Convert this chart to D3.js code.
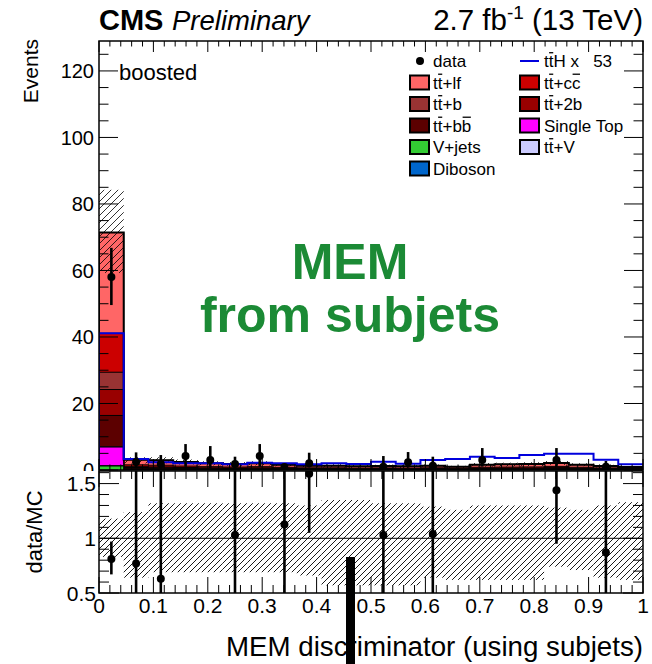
<!DOCTYPE html>
<html>
<head>
<meta charset="utf-8">
<script src="https://cdn.jsdelivr.net/npm/d3@7"></script>
<style>
  body { margin: 0; background: #fff; }
  svg { display: block; font-family: "Liberation Sans", Arial, Helvetica, sans-serif; }
</style>
</head>
<body>
<svg id="chart" width="652" height="664"></svg>
<script>
// ---- binning of the MEM discriminator ----
const nBins = 22;
const xDomain = [0, 1];

// ---- background processes, events per bin ----
const vjets     = [1.2, 0.02, 0.02, 0.01, 0.01, 0.01, 0.01, 0.01, 0.01, 0.01, 0.01, 0.01, 0.01, 0.01, 0.01, 0.01, 0.01, 0.01, 0.01, 0.01, 0.01, 0.01];
const diboson   = [0.1, 0, 0, 0, 0, 0, 0, 0, 0, 0, 0, 0, 0, 0, 0, 0, 0, 0, 0, 0, 0, 0];
const singleTop = [5.6, 0.20, 0.18, 0.15, 0.12, 0.11, 0.12, 0.10, 0.08, 0.08, 0.07, 0.08, 0.07, 0.08, 0.06, 0.10, 0.10, 0.11, 0.13, 0.10, 0.08, 0.06];
const ttV       = [0.1, 0.03, 0.03, 0.02, 0.02, 0.02, 0.02, 0.02, 0.02, 0.02, 0.02, 0.02, 0.02, 0.02, 0.02, 0.03, 0.03, 0.03, 0.04, 0.03, 0.02, 0.02];
const ttbb      = [9.4, 0.30, 0.28, 0.24, 0.20, 0.18, 0.20, 0.16, 0.13, 0.13, 0.11, 0.12, 0.11, 0.13, 0.10, 0.17, 0.18, 0.19, 0.23, 0.17, 0.12, 0.09];
const tt2b      = [7.8, 0.20, 0.18, 0.15, 0.13, 0.12, 0.13, 0.10, 0.08, 0.08, 0.07, 0.08, 0.07, 0.08, 0.07, 0.10, 0.11, 0.12, 0.13, 0.10, 0.08, 0.06];
const ttb       = [5.2, 0.25, 0.23, 0.19, 0.16, 0.14, 0.16, 0.13, 0.10, 0.10, 0.09, 0.10, 0.09, 0.10, 0.08, 0.13, 0.14, 0.14, 0.17, 0.13, 0.10, 0.07];
const ttcc      = [11.7, 0.55, 0.52, 0.43, 0.36, 0.32, 0.36, 0.29, 0.24, 0.24, 0.20, 0.22, 0.20, 0.24, 0.18, 0.29, 0.31, 0.33, 0.38, 0.29, 0.22, 0.16];
const ttlf      = [30.3, 1.55, 1.48, 1.21, 1.00, 0.90, 1.00, 0.79, 0.64, 0.64, 0.53, 0.57, 0.53, 0.64, 0.48, 0.78, 0.82, 0.87, 1.01, 0.78, 0.57, 0.43];

// ---- signal, ttH scaled by 53 ----
const ttHx53 = [41.1, 3.3, 2.3, 2.0, 2.0, 1.7, 2.2, 2.0, 1.7, 2.0, 1.8, 2.5, 1.9, 3.0, 3.3, 4.0, 3.6, 4.5, 4.9, 4.9, 3.1, 1.7];

// ---- observed data (null = no entry drawn) ----
const dataVal  = [58, 2.4, 1.8, 4.2, 3.0, 1.8, 4.2, 0.9, 2.0, null, null, 1.0, 2.3, 1.3, null, 3.0, null, null, 3.0, null, 1.0, null];
const dataLow  = [49.6, 0.5, 0.4, 1.0, 0.5, 0.3, 1.0, 0.2, 0.8, null, null, 0.2, 0.7, 0.2, null, 1.0, null, null, 1.0, null, 0.2, null];
const dataHigh = [66.8, 5.3, 4.5, 7.8, 7.2, 4.0, 7.8, 1.6, 5.2, null, null, 4.2, 5.4, 4.0, null, 6.6, null, null, 6.6, null, 2.7, null];

// ---- relative background uncertainty band (lower / upper edge) ----
const bandLow  = [0.83, 0.64, 0.69, 0.69, 0.69, 0.69, 0.69, 0.69, 0.66, 0.57, 0.57, 0.57, 0.57, 0.64, 0.62, 0.62, 0.62, 0.62, 0.74, 0.71, 0.64, 0.62];
const bandHigh = [1.18, 1.24, 1.32, 1.32, 1.32, 1.32, 1.32, 1.32, 1.30, 1.35, 1.35, 1.32, 1.32, 1.29, 1.26, 1.30, 1.30, 1.30, 1.28, 1.26, 1.30, 1.33];

// ---- data / MC ratio ----
const ratioVal  = [0.81, 0.77, 0.63, null, null, 1.03, null, 1.125, 1.59, null, null, 1.03, null, 1.04, null, null, null, null, 1.44, null, 0.87, null];
const ratioLow  = [0.67, 0.2, 0.1, null, null, 0.2, null, 0.2, 1.05, null, null, 0.2, null, 0.2, null, null, null, null, 0.95, null, 0.2, null];
const ratioHigh = [0.97, 2.0, 1.9, null, null, 2.5, null, 2.8, 3.0, null, null, 3.0, null, 3.0, null, null, null, null, 2.5, null, 2.5, null];

// ---- axis ticks ----
const xTickLabels = ["0", "0.1", "0.2", "0.3", "0.4", "0.5", "0.6", "0.7", "0.8", "0.9", "1"];
const yMainLabels = ["0", "20", "40", "60", "80", "100", "120"];
const yRatioLabels = ["0.5", "1", "1.5"];

// ---- process table: stacking order bottom -> top ----
const processes = [
  { key: "vjets",     name: "V+jets",       color: "#33cc33", values: vjets },
  { key: "diboson",   name: "Diboson",      color: "#0066cc", values: diboson },
  { key: "singleTop", name: "Single Top",   color: "#ff00ff", values: singleTop },
  { key: "ttV",       name: "t{t}+V",       color: "#ccccff", values: ttV },
  { key: "ttbb",      name: "t{t}+b{b}",    color: "#5c0000", values: ttbb },
  { key: "tt2b",      name: "t{t}+2b",      color: "#990000", values: tt2b },
  { key: "ttb",       name: "t{t}+b",       color: "#993333", values: ttb },
  { key: "ttcc",      name: "t{t}+c{c}",    color: "#cc0000", values: ttcc },
  { key: "ttlf",      name: "t{t}+lf",      color: "#ff6666", values: ttlf }
];

// ---- geometry ----
const X0 = 99, X1 = 643;
const mainTop = 41, mainBot = 470;
const ratTop = 471, ratBot = 593;

const x  = d3.scaleLinear().domain(xDomain).range([X0, X1]);
const y  = d3.scaleLinear().domain([0, 129]).range([mainBot, mainTop]);
const yr = d3.scaleLinear().domain([0.5, 1.615]).range([ratBot, ratTop]);

const binW = (xDomain[1] - xDomain[0]) / nBins;
const lo = i => xDomain[0] + i * binW;
const hi = i => xDomain[0] + (i + 1) * binW;
const mid = i => xDomain[0] + (i + 0.5) * binW;

const svg = d3.select("#chart");
const defs = svg.append("defs");

defs.append("clipPath").attr("id", "clipMain")
  .append("rect").attr("x", X0).attr("y", mainTop).attr("width", X1 - X0).attr("height", mainBot - mainTop);
defs.append("clipPath").attr("id", "clipRatio")
  .append("rect").attr("x", X0).attr("y", ratTop).attr("width", X1 - X0).attr("height", ratBot - ratTop);

function hatch(id, step, width) {
  const p = defs.append("pattern").attr("id", id)
    .attr("patternUnits", "userSpaceOnUse").attr("width", step).attr("height", step);
  p.append("path")
    .attr("d", `M0,${step} L${step},0 M${-step / 2},${step / 2} L${step / 2},${-step / 2} M${step / 2},${step * 1.5} L${step * 1.5},${step / 2}`)
    .attr("stroke", "#000").attr("stroke-width", width);
}
hatch("hatchMain", 7, 0.8);
hatch("hatchRatio", 6, 0.9);

// ---- stacked backgrounds ----
const rows = d3.range(nBins).map(i => {
  const r = {};
  processes.forEach(p => { r[p.key] = p.values[i]; });
  return r;
});
const stacked = d3.stack().keys(processes.map(p => p.key))(rows);
const totals = stacked[stacked.length - 1].map(d => d[1]);

// histogram contour points: [bin low edge, content] plus closing edge
function histPoints(vals) {
  const pts = vals.map((v, i) => [lo(i), v]);
  pts.push([xDomain[1], vals[vals.length - 1]]);
  return pts;
}
const histLine = d3.line().curve(d3.curveStepAfter).x(d => x(d[0])).y(d => y(d[1]));
const histArea = d3.area().curve(d3.curveStepAfter).x(d => x(d[0])).y0(y(0)).y1(d => y(d[1]));

const gMain = svg.append("g").attr("clip-path", "url(#clipMain)");

// cumulative layers, top-most first, each filled down to zero
for (let k = stacked.length - 1; k >= 0; k--) {
  const pts = histPoints(stacked[k].map(d => d[1]));
  gMain.append("path").attr("d", histArea(pts)).attr("fill", processes[k].color);
  gMain.append("path").attr("d", histLine(pts))
    .attr("fill", "none").attr("stroke", "#000").attr("stroke-width", 1);
}
// column edges of the total
for (let i = 1; i < nBins; i++) {
  gMain.append("line")
    .attr("x1", x(lo(i))).attr("x2", x(lo(i)))
    .attr("y1", y(Math.min(totals[i - 1], totals[i]))).attr("y2", y(0))
    .attr("stroke", "#000").attr("stroke-width", 0.6);
}
// total outline
gMain.append("path")
  .attr("d", histLine([[xDomain[0], 0], ...histPoints(totals)]))
  .attr("fill", "none").attr("stroke", "#000").attr("stroke-width", 2);

// uncertainty band on the total
rows.forEach((r, i) => {
  gMain.append("rect")
    .attr("x", x(lo(i))).attr("width", x(hi(i)) - x(lo(i)))
    .attr("y", y(totals[i] * bandHigh[i]))
    .attr("height", y(totals[i] * bandLow[i]) - y(totals[i] * bandHigh[i]))
    .attr("fill", "url(#hatchMain)");
});

// ttH x 53
gMain.append("path")
  .attr("d", histLine([[xDomain[0], 0], ...histPoints(ttHx53)]))
  .attr("fill", "none").attr("stroke", "#0000dd").attr("stroke-width", 2);

// data
dataVal.forEach((v, i) => {
  if (v === null) return;
  gMain.append("line")
    .attr("x1", x(mid(i))).attr("x2", x(mid(i)))
    .attr("y1", y(dataHigh[i])).attr("y2", y(dataLow[i]))
    .attr("stroke", "#000").attr("stroke-width", 2.6);
  gMain.append("circle").attr("cx", x(mid(i))).attr("cy", y(v)).attr("r", 4).attr("fill", "#000");
});

// ---- axes of the upper panel ----
const gAx = svg.append("g").attr("stroke", "#000").attr("stroke-width", 1);
function xTicks(g, yPix, dir, majLen, minLen) {
  d3.range(0, 51).forEach(j => {
    const v = j * 0.02;
    const len = j % 5 === 0 ? majLen : minLen;
    g.append("line").attr("x1", x(v)).attr("x2", x(v))
      .attr("y1", yPix).attr("y2", yPix + dir * len);
  });
}
function yTicks(g, scale, values, majorEvery, xPix, dir, majLen, minLen) {
  values.forEach((v, j) => {
    const len = j % majorEvery === 0 ? majLen : minLen;
    g.append("line").attr("x1", xPix).attr("x2", xPix + dir * len)
      .attr("y1", scale(v)).attr("y2", scale(v));
  });
}
xTicks(gAx, mainTop, 1, 11, 5.5);
xTicks(gAx, mainBot, -1, 11, 5.5);
const yMinor = d3.range(0, 26).map(j => j * 5);
yTicks(gAx, y, yMinor, 4, X0, 1, 19, 9.5);
yTicks(gAx, y, yMinor, 4, X1, -1, 19, 9.5);
svg.append("rect").attr("x", X0).attr("y", mainTop).attr("width", X1 - X0).attr("height", mainBot - mainTop)
  .attr("fill", "none").attr("stroke", "#000").attr("stroke-width", 1.5);

yMainLabels.forEach(t => {
  svg.append("text").attr("x", 94).attr("y", y(+t)).attr("dy", "0.36em")
    .attr("text-anchor", "end").attr("font-size", 20).text(t);
});

svg.append("text").attr("transform", "translate(37.5,39) rotate(-90)")
  .attr("text-anchor", "end").attr("font-size", 21).text("Events");

// header
svg.append("text").attr("x", 99).attr("y", 30).attr("font-size", 29).attr("font-weight", "bold").text("CMS");
svg.append("text").attr("x", 172).attr("y", 30).attr("font-size", 27.5).attr("font-style", "italic").text("Preliminary");
const lumi = svg.append("text").attr("x", 643).attr("y", 30).attr("font-size", 29.5).attr("text-anchor", "end");
lumi.append("tspan").text("2.7 fb");
lumi.append("tspan").attr("font-size", 19).attr("dy", -11).text("-1");
lumi.append("tspan").attr("dy", 11).text(" (13 TeV)");

svg.append("text").attr("x", 119).attr("y", 80).attr("font-size", 22).text("boosted");

// category label
const big = svg.append("g").attr("fill", "#1b8a35").attr("font-weight", "bold").attr("font-size", 50).attr("text-anchor", "middle");
big.append("text").attr("x", 350).attr("y", 279).text("MEM");
big.append("text").attr("x", 350).attr("y", 332).text("from subjets");

// ---- legend ----
function richLabel(g, x0, yb, str, size) {
  const re = /\{([^}]*)\}|([^{]+)/g;
  let m, cx = x0;
  while ((m = re.exec(str)) !== null) {
    const s = m[1] !== undefined ? m[1] : m[2];
    const barred = m[1] !== undefined;
    const t = g.append("text").attr("x", cx).attr("y", yb).attr("font-size", size)
      .style("white-space", "pre").text(s);
    const w = t.node().getComputedTextLength();
    if (barred) {
      g.append("line").attr("x1", cx + w * 0.08).attr("x2", cx + w * 0.95)
        .attr("y1", yb - size * 0.84).attr("y2", yb - size * 0.84)
        .attr("stroke", "#000").attr("stroke-width", 1.3);
    }
    cx += w;
  }
}
const leg = svg.append("g");
const legRows = [61, 82.5, 104, 125.5, 147, 168.5];
const legFont = 17;
const col1 = [null, "ttlf", "ttb", "ttbb", "vjets", "diboson"];
const col2 = [null, "ttcc", "tt2b", "singleTop", "ttV"];
const procByKey = Object.fromEntries(processes.map(p => [p.key, p]));

leg.append("circle").attr("cx", 420).attr("cy", legRows[0]).attr("r", 4).attr("fill", "#000");
richLabel(leg, 433, legRows[0] + 6, "data", legFont);
leg.append("line").attr("x1", 520).attr("x2", 539).attr("y1", legRows[0]).attr("y2", legRows[0])
  .attr("stroke", "#0000dd").attr("stroke-width", 2);
richLabel(leg, 544, legRows[0] + 6, "t{t}H x   53", legFont);

[[col1, 410, 433], [col2, 520, 544]].forEach(([col, bx, tx]) => {
  col.forEach((key, r) => {
    if (!key) return;
    const p = procByKey[key];
    leg.append("rect").attr("x", bx).attr("y", legRows[r] - 7).attr("width", 19).attr("height", 14)
      .attr("fill", p.color).attr("stroke", "#000").attr("stroke-width", 2);
    richLabel(leg, tx, legRows[r] + 6, p.name, legFont);
  });
});

// ---- ratio panel ----
svg.append("rect").attr("x", 0).attr("y", ratTop).attr("width", 652).attr("height", 664 - ratTop).attr("fill", "#fff");

const gRat = svg.append("g").attr("clip-path", "url(#clipRatio)");
bandLow.forEach((b, i) => {
  gRat.append("rect")
    .attr("x", x(lo(i))).attr("width", x(hi(i)) - x(lo(i)))
    .attr("y", yr(bandHigh[i])).attr("height", yr(b) - yr(bandHigh[i]))
    .attr("fill", "url(#hatchRatio)");
});
gRat.append("line").attr("x1", X0).attr("x2", X1).attr("y1", yr(1)).attr("y2", yr(1))
  .attr("stroke", "#000").attr("stroke-width", 1);
ratioVal.forEach((v, i) => {
  if (v === null) return;
  gRat.append("line")
    .attr("x1", x(mid(i))).attr("x2", x(mid(i)))
    .attr("y1", yr(ratioHigh[i])).attr("y2", yr(ratioLow[i]))
    .attr("stroke", "#000").attr("stroke-width", 2.6);
  gRat.append("circle").attr("cx", x(mid(i))).attr("cy", yr(v)).attr("r", 4).attr("fill", "#000");
});

const gAx2 = svg.append("g").attr("stroke", "#000").attr("stroke-width", 1);
xTicks(gAx2, ratBot, -1, 16, 8);
xTicks(gAx2, ratTop, 1, 16, 8);
const rMinor = d3.range(0, 12).map(j => 0.5 + j * 0.1);
yTicks(gAx2, yr, rMinor, 5, X0, 1, 20, 10);
yTicks(gAx2, yr, rMinor, 5, X1, -1, 20, 10);
svg.append("rect").attr("x", X0).attr("y", ratTop).attr("width", X1 - X0).attr("height", ratBot - ratTop)
  .attr("fill", "none").attr("stroke", "#000").attr("stroke-width", 1.5);

yRatioLabels.forEach(t => {
  svg.append("text").attr("x", 96).attr("y", yr(+t)).attr("dy", "0.36em")
    .attr("text-anchor", "end").attr("font-size", 21).text(t);
});
xTickLabels.forEach(t => {
  svg.append("text").attr("x", x(+t)).attr("y", 613)
    .attr("text-anchor", "middle").attr("font-size", 21).text(t);
});
svg.append("text").attr("transform", `translate(42,${(ratTop + ratBot) / 2}) rotate(-90)`)
  .attr("text-anchor", "middle").attr("font-size", 22).text("data/MC");

svg.append("text").attr("x", 643).attr("y", 656).attr("text-anchor", "end").attr("font-size", 27.7)
  .text("MEM discriminator (using subjets)");

// opaque bar in front of the axis title
svg.append("rect").attr("x", 346).attr("y", 557).attr("width", 9).attr("height", 107).attr("fill", "#000");
</script>
</body>
</html>
